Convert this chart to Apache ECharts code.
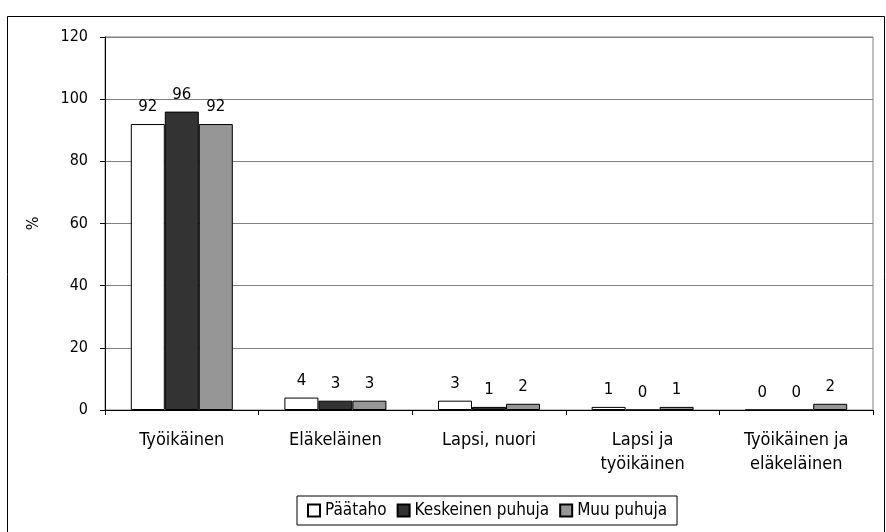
<!DOCTYPE html>
<html>
<head>
<meta charset="utf-8">
<script src="https://cdn.jsdelivr.net/npm/echarts@6/dist/echarts.min.js"></script>
<style>
    html, body { margin: 0; padding: 0; background: #fff; }
    #chart { width: 886px; height: 532px; }
</style>
</head>
<body>
<div id="chart"></div>
<script>
    var categories = ['Työikäinen', 'Eläkeläinen', 'Lapsi, nuori', 'Lapsi ja\ntyöikäinen', 'Työikäinen ja\neläkeläinen']
    var paataho = [92, 4, 3, 1, 0]
    var keskeinen = [96, 3, 1, 0, 0]
    var muu = [92, 3, 2, 1, 2]
    var yTicks = { min: 0, max: 120, interval: 20 }

    var axisFont = 'DejaVu Sans Condensed'
    var myChart = echarts.init(document.getElementById('chart'))

    function barSeries(name, data, color) {
        return {
            name: name,
            type: 'bar',
            data: data,
            barWidth: 34,
            barGap: '0%',
            animation: false,
            itemStyle: {
                color: color,
                borderColor: '#000',
                borderWidth: 1
            },
            label: {
                show: true,
                position: 'top',
                distance: 9,
                color: '#000',
                fontFamily: 'DejaVu Sans',
                fontSize: 15
            }
        }
    }

    var option = {
        backgroundColor: '#fff',
        animation: false,
        grid: {
            left: 105,
            right: 13,
            top: 37,
            bottom: 122,
            show: true,
            borderColor: '#808080',
            borderWidth: 1
        },
        graphic: [{
            type: 'rect',
            shape: { x: 7.5, y: 16.5, width: 877, height: 530 },
            style: { fill: 'none', stroke: '#000', lineWidth: 1 },
            z: -1
        }],
        legend: {
            left: 297,
            top: 496,
            orient: 'horizontal',
            padding: [6, 10, 6, 10],
            itemGap: 10,
            itemWidth: 12,
            itemHeight: 12,
            borderColor: '#000',
            borderWidth: 1,
            icon: 'rect',
            textStyle: {
                color: '#000',
                fontFamily: axisFont,
                fontSize: 17
            },
            data: ['Päätaho', 'Keskeinen puhuja', 'Muu puhuja']
        },
        xAxis: {
            type: 'category',
            data: categories,
            axisLine: { show: true, lineStyle: { color: '#000', width: 1 } },
            axisTick: { show: true, interval: 0, inside: false, length: 5, lineStyle: { color: '#000' } },
            axisLabel: {
                interval: 0,
                margin: 18,
                color: '#000',
                fontFamily: axisFont,
                fontSize: 18,
                lineHeight: 24
            }
        },
        yAxis: {
            type: 'value',
            min: yTicks.min,
            max: yTicks.max,
            interval: yTicks.interval,
            name: '%',
            nameLocation: 'middle',
            nameGap: 63,
            nameRotate: 90,
            nameTextStyle: { color: '#000', fontFamily: axisFont, fontSize: 16 },
            axisLine: { show: true, lineStyle: { color: '#000', width: 1 } },
            axisTick: { show: true, inside: false, length: 5, lineStyle: { color: '#000' } },
            axisLabel: {
                margin: 17,
                color: '#000',
                fontFamily: axisFont,
                fontSize: 16
            },
            splitLine: { show: true, lineStyle: { color: '#808080', width: 1 } }
        },
        series: [
            barSeries('Päätaho', paataho, '#ffffff'),
            barSeries('Keskeinen puhuja', keskeinen, '#333333'),
            barSeries('Muu puhuja', muu, '#969696')
        ]
    }
    myChart.setOption(option)
</script>
</body>
</html>
